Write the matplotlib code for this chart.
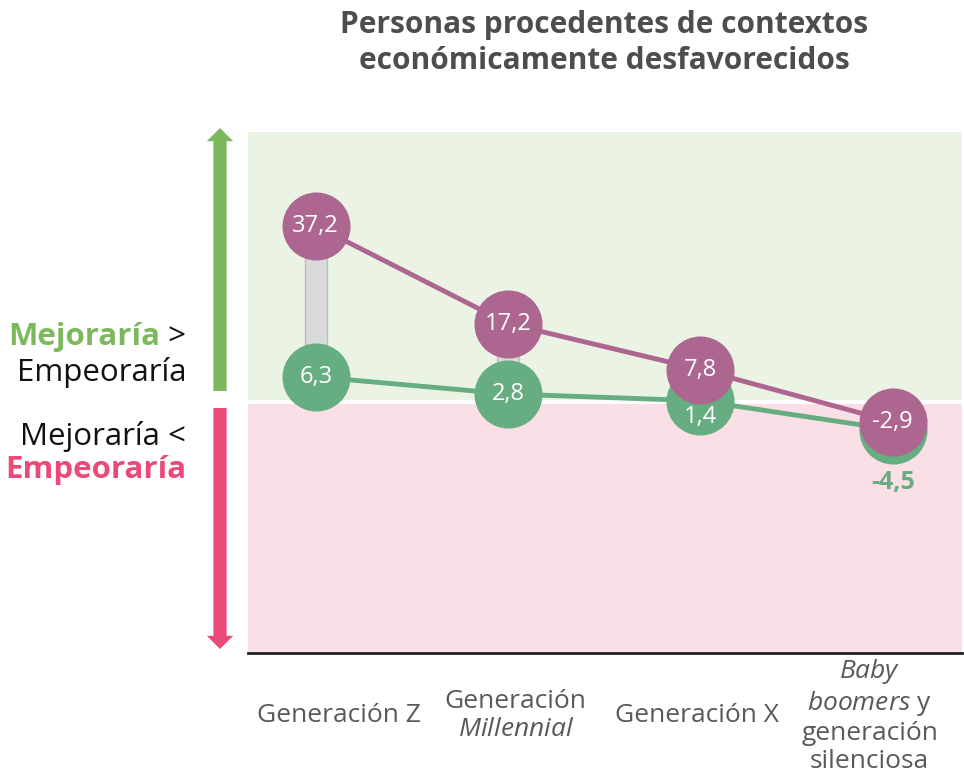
import matplotlib
matplotlib.use('Agg')
from matplotlib import pyplot as plt
from matplotlib.patches import FancyArrowPatch, ArrowStyle

plt.rcParams['font.family'] = ['Open Sans', 'DejaVu Sans']
plt.rcParams['mathtext.fontset'] = 'custom'
plt.rcParams['mathtext.rm'] = 'Open Sans'
plt.rcParams['mathtext.it'] = 'Open Sans:italic'

# data
generaciones = ['Generación Z', 'Generación\n$\\it{Millennial}$', 'Generación X',
                '$\\it{Baby}$\n$\\it{boomers}$ y\ngeneración\nsilenciosa']
serie_morada = [37.2, 17.2, 7.8, -2.9]
serie_verde = [6.3, 2.8, 1.4, -4.5]

MORADO = '#AD6690'
VERDE = '#66AD82'
VERDE_FLECHA = '#7CB95C'
ROSA = '#EB4A78'

W, H = 964, 775
fx = lambda px: px / W
fy = lambda py: 1 - py / H

def fmt(v):
    return f'{v:.1f}'.replace('.', ',')

fig = plt.figure(figsize=(W / 100, H / 100), dpi=100)
ax = fig.add_axes([fx(248), fy(653), (962 - 248) / W, (653 - 132) / H])

x = list(range(len(generaciones)))
ax.set_xlim(-0.352, 3.36)
ax.set_ylim(-50.2, 56.4)

# fondo verde / rosa
ax.axhspan(1.5, 56.4, color='#EBF3E5', lw=0, zorder=0)
ax.axhspan(-50.2, 0.7, color='#FBDFE7', lw=0, zorder=0)

# barras grises entre los dos valores
alturas = [m - v for m, v in zip(serie_morada, serie_verde)]
ax.bar(x, alturas, bottom=serie_verde, width=0.114, color='#D9D9D9',
       edgecolor='#BDBDBD', linewidth=1, zorder=1)

ax.plot(x, serie_verde, color=VERDE, lw=3.5, zorder=2, solid_capstyle='round')
ax.scatter(x, serie_verde, s=2400, color=VERDE, zorder=3, linewidths=0)
desplaz = [0, 0, -11.5, -38]
for xi, v, d in zip(x, serie_verde, desplaz):
    fuera = d < -20
    ax.annotate(fmt(v), (xi, v), xytext=(0, d), textcoords='offset points',
                ha='center', va='center', fontsize=18 if fuera else 17,
                color=VERDE if fuera else 'white',
                fontweight='bold' if fuera else 'normal', zorder=4)

ax.plot(x, serie_morada, color=MORADO, lw=3.5, zorder=5, solid_capstyle='round')
ax.scatter(x, serie_morada, s=2400, color=MORADO, zorder=6, linewidths=0)
for xi, v in zip(x, serie_morada):
    ax.annotate(fmt(v), (xi, v), ha='center', va='center', fontsize=17,
                color='white', zorder=7)

# ejes
for s in ['top', 'right', 'left']:
    ax.spines[s].set_visible(False)
ax.spines['bottom'].set_color('#222222')
ax.spines['bottom'].set_linewidth(2)
ax.set_yticks([])
ax.set_xticks([])
etiqueta_x = [0.12, 1.04, 1.98, 2.88]
for ex, g in zip(etiqueta_x, generaciones):
    ax.text(ex, -0.12, g, transform=ax.get_xaxis_transform(), ha='center',
            va='center', fontsize=19, color='#595959', linespacing=1.15)

# titulo
fig.text(fx(604), fy(43), 'Personas procedentes de contextos\neconómicamente desfavorecidos',
         ha='center', va='center', fontsize=21.5, fontweight='bold',
         color='#4D4D4D', linespacing=1.27)

# flechas
estilo = ArrowStyle.Simple(head_length=9.5, head_width=19, tail_width=9.5)
fig.add_artist(FancyArrowPatch((fx(220), fy(391)), (fx(220), fy(128)),
                               transform=fig.transFigure, arrowstyle=estilo,
                               mutation_scale=1, color=VERDE_FLECHA, lw=0,
                               shrinkA=0, shrinkB=0))
fig.add_artist(FancyArrowPatch((fx(220), fy(408)), (fx(220), fy(649)),
                               transform=fig.transFigure, arrowstyle=estilo,
                               mutation_scale=1, color=ROSA, lw=0,
                               shrinkA=0, shrinkB=0))

# textos de la izquierda
fs = 22.5
t1 = fig.text(fx(186), fy(337), ' >', ha='right', va='center', fontsize=fs, color='#111111')
fig.text(fx(186), fy(372), 'Empeoraría', ha='right', va='center', fontsize=fs, color='#111111')
ax.annotate('Mejoraría', xy=(0, 0), xycoords=t1, ha='right', va='bottom',
            fontsize=fs, fontweight='bold', color=VERDE_FLECHA, annotation_clip=False)
fig.text(fx(186), fy(437), 'Mejoraría <', ha='right', va='center', fontsize=fs, color='#111111')
fig.text(fx(186), fy(470), 'Empeoraría', ha='right', va='center', fontsize=fs,
         fontweight='bold', color=ROSA)

fig.savefig('out.png', dpi=100)
